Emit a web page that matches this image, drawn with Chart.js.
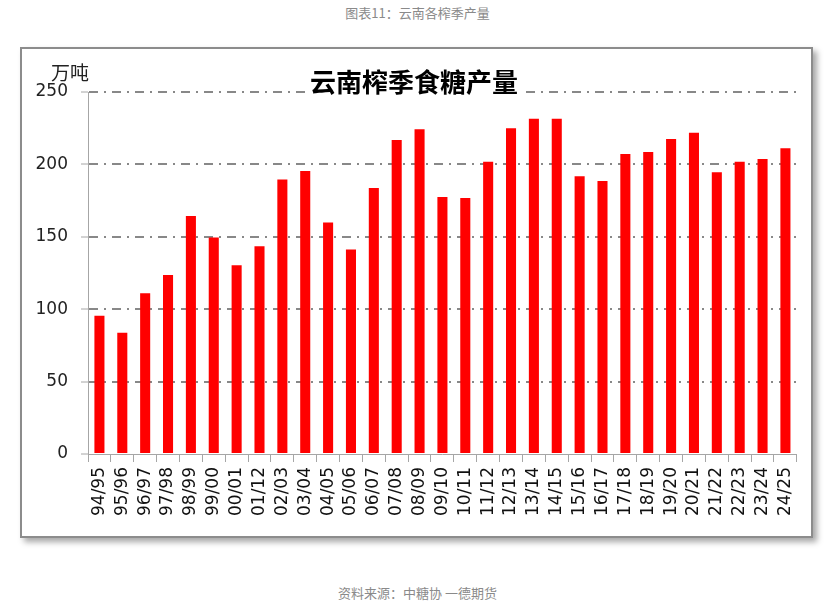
<!DOCTYPE html>
<html>
<head>
<meta charset="utf-8">
<script src="https://cdn.jsdelivr.net/npm/chart.js@4.4.1/dist/chart.umd.min.js"></script>
<style>
  html, body { margin:0; padding:0; background:#fff; }
  body { width:835px; height:604px; position:relative; overflow:hidden; font-family:"Noto Sans CJK SC","Noto Sans",sans-serif; }
  #caption { position:absolute; left:0; width:835px; top:3px; text-align:center; font-size:13px; color:#8a8a8a; }
  #footer { position:absolute; left:0; width:835px; top:583px; text-align:center; font-size:13px; color:#8a8a8a; }
  #box { position:absolute; left:20px; top:47px; width:789px; height:487px; border:2px solid #8c8c8c; box-shadow:4px 4px 6px rgba(0,0,0,0.35); background:#fff; }
  #c { position:absolute; left:0; top:0; }
</style>
</head>
<body>
<div id="caption">图表11：云南各榨季产量</div>
<div id="box"><canvas id="c" width="789" height="487"></canvas></div>
<div id="footer">资料来源：中糖协 一德期货</div>
<script>
const seasons = ["94/95","95/96","96/97","97/98","98/99","99/00","00/01","01/12","02/03","03/04","04/05","05/06","06/07","07/08","08/09","09/10","10/11","11/12","12/13","13/14","14/15","15/16","16/17","17/18","18/19","19/20","20/21","21/22","22/23","23/24","24/25"];
const output = [95.5,83.8,111,123.6,164.4,149.6,130.3,143.4,189.5,195.4,159.8,141.3,183.7,216.9,224.2,177.5,176.8,201.9,224.9,231.6,231.6,191.8,188.5,207.2,208.6,217.5,221.9,194.5,201.9,203.7,211.1];
const yTicks = [0,50,100,150,200,250];
const chartTitle = "云南榨季食糖产量";
const unitLabel = "万吨";

const titlePlugin = {
  id: 'titlePlugin',
  afterDraw(chart) {
    const ctx = chart.ctx;
    ctx.save();
    ctx.font = 'bold 26px "Noto Sans CJK SC"';
    const w = ctx.measureText(chartTitle).width;
    const cx = 392, cy = 33;
    ctx.fillStyle = '#fff';
    ctx.fillRect(cx - w/2 - 2, cy - 15, w + 4, 30);
    ctx.fillStyle = '#000';
    ctx.textAlign = 'center';
    ctx.textBaseline = 'middle';
    ctx.fillText(chartTitle, cx, cy);
    ctx.font = '19px "Noto Sans CJK SC"';
    ctx.fillStyle = '#222';
    ctx.textAlign = 'left';
    ctx.fillText(unitLabel, 29, 24);
    ctx.restore();
  }
};

new Chart(document.getElementById('c'), {
  type: 'bar',
  data: {
    labels: seasons,
    datasets: [{
      data: output,
      backgroundColor: '#ff0000',
      borderWidth: 0,
      barPercentage: 0.44,
      categoryPercentage: 1.0
    }]
  },
  options: {
    responsive: false,
    animation: false,
    devicePixelRatio: 1,
    layout: { padding: { top: 43, right: 11, left: 0, bottom: 0 } },
    plugins: { legend: { display: false }, tooltip: { enabled: false }, title: { display: false } },
    scales: {
      x: {
        afterFit(s) { s.height = 82; },
        offset: true,
        grid: { drawOnChartArea: false, drawTicks: true, tickLength: 8, tickColor: '#a6a6a6', offset: true },
        border: { display: true, color: '#a6a6a6', width: 1 },
        ticks: { autoSkip: false, maxRotation: 90, minRotation: 90, padding: 5, color: '#111', font: { family: 'DejaVu Sans', size: 17 } }
      },
      y: {
        afterFit(s) { s.width = 66; },
        min: 0, max: 250,
        afterBuildTicks(s) { s.ticks = yTicks.map(v => ({ value: v })); },
        grid: {
          color: c => (c.tick && c.tick.value === 0) ? 'rgba(0,0,0,0)' : '#888888',
          lineWidth: 2,
          tickLength: 7,
          tickColor: '#a6a6a6',
          tickWidth: 1,
          tickBorderDash: []
        },
        border: { display: true, color: '#a6a6a6', width: 1, dash: [9, 6, 2, 6] },
        ticks: { padding: 13, color: '#222', font: { family: 'DejaVu Sans', size: 17 } }
      }
    }
  },
  plugins: [titlePlugin]
});
</script>
</body>
</html>
